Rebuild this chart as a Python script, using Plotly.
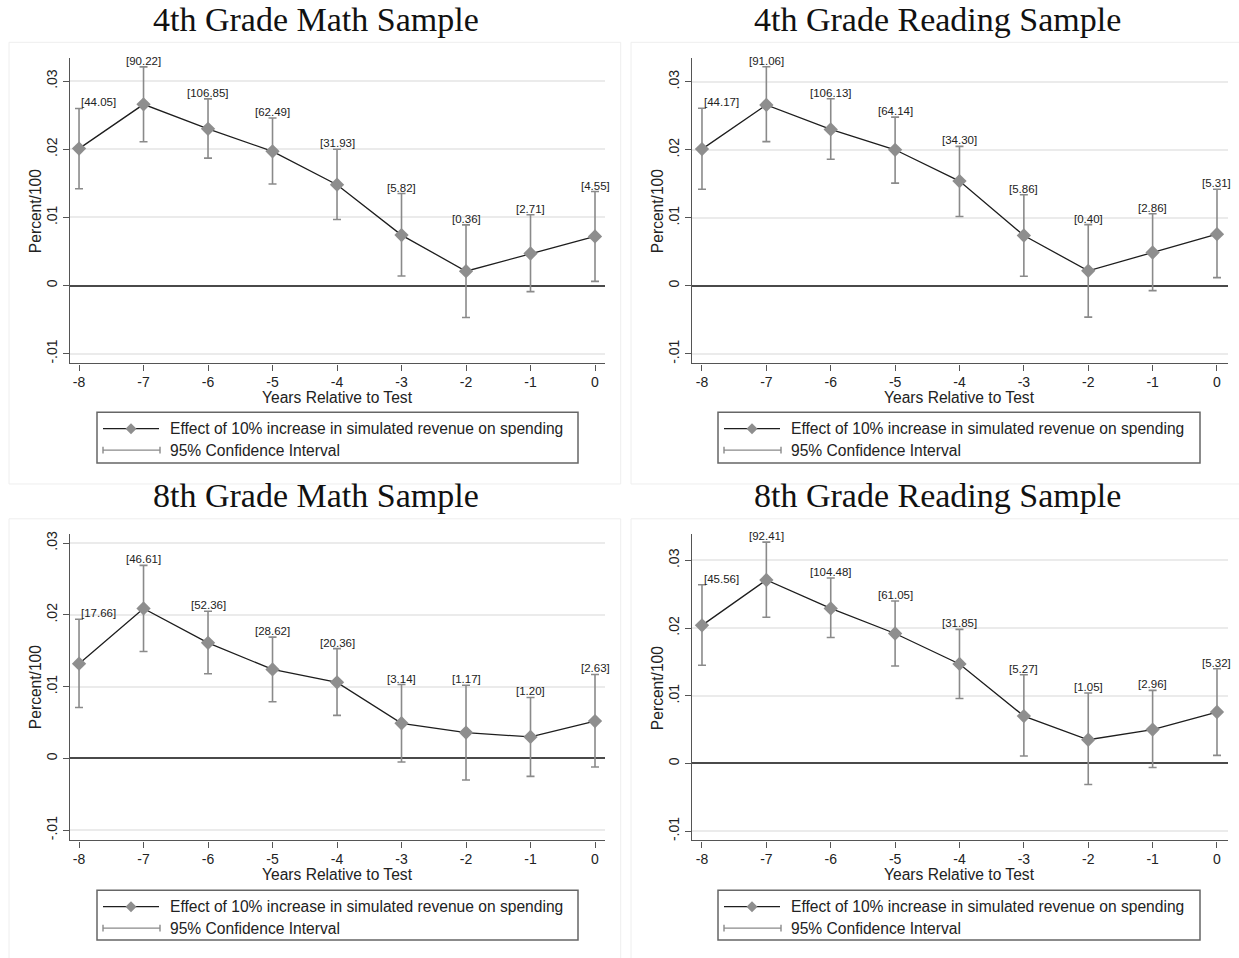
import plotly.graph_objects as go

W, H = 1239, 958

# ---------------- data ----------------
years = [-8, -7, -6, -5, -4, -3, -2, -1, 0]
x_tick_labels = ["-8", "-7", "-6", "-5", "-4", "-3", "-2", "-1", "0"]
y_tick_vals = [-0.01, 0.0, 0.01, 0.02, 0.03]
y_tick_labels = ["-.01", "0", ".01", ".02", ".03"]

panel_titles = ["4th Grade Math Sample", "4th Grade Reading Sample",
                "8th Grade Math Sample", "8th Grade Reading Sample"]
x_title = "Years Relative to Test"
y_title = "Percent/100"
legend_effect = "Effect of 10% increase in simulated revenue on spending"
legend_ci = "95% Confidence Interval"

math4_coef = [0.0201, 0.0266, 0.0230, 0.0197, 0.0148, 0.0074, 0.0021, 0.0047, 0.0072]
math4_lo = [0.0142, 0.0211, 0.0187, 0.0149, 0.0097, 0.0014, -0.0047, -0.0009, 0.0006]
math4_hi = [0.0260, 0.0321, 0.0274, 0.0246, 0.0200, 0.0135, 0.0089, 0.0104, 0.0138]
math4_labels = ["44.05", "90.22", "106.85", "62.49", "31.93", "5.82", "0.36", "2.71", "4.55"]

read4_coef = [0.0201, 0.0266, 0.0230, 0.0200, 0.0154, 0.0074, 0.0022, 0.0049, 0.0076]
read4_lo = [0.0142, 0.0212, 0.0186, 0.0151, 0.0102, 0.0014, -0.0046, -0.0007, 0.0012]
read4_hi = [0.0261, 0.0322, 0.0275, 0.0248, 0.0205, 0.0134, 0.0090, 0.0106, 0.0142]
read4_labels = ["44.17", "91.06", "106.13", "64.14", "34.30", "5.86", "0.40", "2.86", "5.31"]

math8_coef = [0.0132, 0.0209, 0.0161, 0.0124, 0.0106, 0.0049, 0.0036, 0.0030, 0.0052]
math8_lo = [0.0071, 0.0149, 0.0118, 0.0079, 0.0060, -0.0005, -0.0030, -0.0025, -0.0012]
math8_hi = [0.0194, 0.0269, 0.0205, 0.0169, 0.0153, 0.0103, 0.0102, 0.0085, 0.0117]
math8_labels = ["17.66", "46.61", "52.36", "28.62", "20.36", "3.14", "1.17", "1.20", "2.63"]

read8_coef = [0.0204, 0.0271, 0.0229, 0.0192, 0.0147, 0.0070, 0.0035, 0.0050, 0.0076]
read8_lo = [0.0145, 0.0216, 0.0186, 0.0144, 0.0096, 0.0011, -0.0031, -0.0006, 0.0012]
read8_hi = [0.0264, 0.0327, 0.0274, 0.0240, 0.0198, 0.0131, 0.0104, 0.0108, 0.0140]
read8_labels = ["45.56", "92.41", "104.48", "61.05", "31.85", "5.27", "1.05", "2.96", "5.32"]

panels_data = [
    (math4_coef, math4_lo, math4_hi, math4_labels),
    (read4_coef, read4_lo, read4_hi, read4_labels),
    (math8_coef, math8_lo, math8_hi, math8_labels),
    (read8_coef, read8_lo, read8_hi, read8_labels),
]

# ---------------- layout geometry (pixels) ----------------
geom = [
    dict(l=70, r=605, t=55, b=362, xr=[-8.14, 0.155], yr=[-0.01145, 0.03344]),
    dict(l=692, r=1228, t=55, b=362, xr=[-8.155, 0.171], yr=[-0.01142, 0.03353]),
    dict(l=70, r=605, t=533, b=841, xr=[-8.14, 0.155], yr=[-0.01143, 0.0313]),
    dict(l=692, r=1228, t=533, b=841, xr=[-8.155, 0.171], yr=[-0.01138, 0.03393]),
]
title_pos = [(316, 17), (937, 17), (316, 495), (937, 495)]
xtitle_pos = [(337, 396), (959, 396), (337, 875), (959, 875)]
ytitle_pos = [(35, 209), (657, 209), (35, 687), (657, 688)]
legend_box = [(97, 411, 578, 462), (718, 411, 1200, 462),
              (97, 891, 578, 941), (718, 891, 1200, 941)]
frames = [(9, 39.5, 620.7, 483), (631, 39.5, 1245, 483),
          (9, 518, 620.7, 965), (631, 518, 1245, 965)]

def px(x):
    return x / W

def py(y):
    return 1 - y / H

SANS = "Liberation Sans, Arial, sans-serif"
SERIF = "Liberation Serif, Times New Roman, serif"
AXIS_COL = "#555555"
GRID_COL = "#ebebeb"
MARK_COL = "#8e8e8e"
CI_COL = "#8a8a8a"
LINE_COL = "#1e1e1e"

fig = go.Figure()
annotations = []
shapes = []

for i, ((coef, lo, hi, labs), g) in enumerate(zip(panels_data, geom)):
    n = "" if i == 0 else str(i + 1)
    up = [h - c for h, c in zip(hi, coef)]
    dn = [c - l for c, l in zip(coef, lo)]
    fig.add_trace(go.Scatter(
        x=years, y=coef, mode="lines+markers",
        line=dict(color=LINE_COL, width=1.3),
        marker=dict(symbol="diamond", size=11, color=MARK_COL, line=dict(width=0)),
        error_y=dict(type="data", array=up, arrayminus=dn, color=CI_COL,
                     thickness=1.6, width=4, visible=True),
        xaxis="x" + n, yaxis="y" + n, showlegend=False, hoverinfo="skip",
    ))
    xa = dict(domain=[px(g["l"]), px(g["r"])], range=g["xr"], anchor="y" + n,
              tickvals=years, ticktext=x_tick_labels, ticks="outside", ticklen=6,
              tickwidth=1.3, tickcolor=AXIS_COL, showline=True, linecolor=AXIS_COL,
              linewidth=1.4, showgrid=False, zeroline=False,
              tickfont=dict(family=SANS, size=14, color="#222"),
              ticklabelstandoff=0)
    ya = dict(domain=[py(g["b"]), py(g["t"])], range=g["yr"], anchor="x" + n,
              tickvals=y_tick_vals, ticktext=y_tick_labels, ticks="outside", ticklen=6,
              tickwidth=1.3, tickcolor=AXIS_COL, showline=True, linecolor=AXIS_COL,
              linewidth=1.4, showgrid=True, gridcolor=GRID_COL, gridwidth=1.5,
              zeroline=True, zerolinecolor="#4a4a4a", zerolinewidth=1.6,
              tickangle=-90, tickfont=dict(family=SANS, size=14, color="#222"))
    fig.layout["xaxis" + n] = xa
    fig.layout["yaxis" + n] = ya

    # value labels above CI tops
    for j, (xv, hv, lab) in enumerate(zip(years, hi, labs)):
        annotations.append(dict(
            x=xv, y=hv, xref="x" + n, yref="y" + n, text="[" + lab + "]",
            showarrow=False, font=dict(family=SANS, size=11.5, color="#222"),
            xanchor="left" if j == 0 else "center", yanchor="bottom",
            yshift=-2, xshift=0))

    # panel title
    tx, ty = title_pos[i]
    annotations.append(dict(x=px(tx), y=py(ty), xref="paper", yref="paper",
                            text=panel_titles[i], showarrow=False,
                            font=dict(family=SERIF, size=34, color="#111"),
                            xanchor="center", yanchor="middle"))
    # axis titles
    ax_, ay_ = xtitle_pos[i]
    annotations.append(dict(x=px(ax_), y=py(ay_), xref="paper", yref="paper",
                            text=x_title, showarrow=False,
                            font=dict(family=SANS, size=15.6, color="#222"),
                            xanchor="center", yanchor="middle"))
    bx, by = ytitle_pos[i]
    annotations.append(dict(x=px(bx), y=py(by), xref="paper", yref="paper",
                            text=y_title, showarrow=False, textangle=-90,
                            font=dict(family=SANS, size=15.6, color="#222"),
                            xanchor="center", yanchor="middle"))

    # panel frame
    fx0, fy0, fx1, fy1 = frames[i]
    shapes.append(dict(type="rect", xref="paper", yref="paper",
                       x0=px(fx0), y0=py(fy1), x1=px(fx1), y1=py(fy0),
                       line=dict(color="#eeeeee", width=1), layer="below"))

    # legend box
    l0, t0, r0, b0 = legend_box[i]
    shapes.append(dict(type="rect", xref="paper", yref="paper",
                       x0=px(l0), y0=py(b0), x1=px(r0), y1=py(t0),
                       line=dict(color="#666666", width=1.5), fillcolor="white"))
    r1 = t0 + 16.5
    r2 = t0 + 38
    shapes.append(dict(type="line", xref="paper", yref="paper",
                       x0=px(l0 + 6), x1=px(l0 + 62), y0=py(r1), y1=py(r1),
                       line=dict(color=LINE_COL, width=1.3)))
    cx = l0 + 34
    d = 5.5
    shapes.append(dict(type="path", xref="paper", yref="paper",
                       path=f"M {px(cx - d)},{py(r1)} L {px(cx)},{py(r1 - d)} L {px(cx + d)},{py(r1)} L {px(cx)},{py(r1 + d)} Z",
                       fillcolor=MARK_COL, line=dict(width=0)))
    shapes.append(dict(type="line", xref="paper", yref="paper",
                       x0=px(l0 + 6), x1=px(l0 + 63), y0=py(r2), y1=py(r2),
                       line=dict(color=CI_COL, width=1.4)))
    for ex in (l0 + 6, l0 + 63):
        shapes.append(dict(type="line", xref="paper", yref="paper",
                           x0=px(ex), x1=px(ex), y0=py(r2 - 3.5), y1=py(r2 + 3.5),
                           line=dict(color=CI_COL, width=1.4)))
    annotations.append(dict(x=px(l0 + 71), y=py(r1), xref="paper", yref="paper",
                            text=legend_effect, showarrow=False,
                            font=dict(family=SANS, size=15.6, color="#222"),
                            xanchor="left", yanchor="middle"))
    annotations.append(dict(x=px(l0 + 71), y=py(r2), xref="paper", yref="paper",
                            text=legend_ci, showarrow=False,
                            font=dict(family=SANS, size=15.6, color="#222"),
                            xanchor="left", yanchor="middle"))

fig.update_layout(
    width=W, height=H, margin=dict(l=0, r=0, t=0, b=0),
    paper_bgcolor="white", plot_bgcolor="white",
    annotations=annotations, shapes=shapes, showlegend=False,
)

fig.write_html("out.html", config={"displayModeBar": False},
               post_script="document.body.style.margin='0px';document.body.style.overflow='hidden';")
